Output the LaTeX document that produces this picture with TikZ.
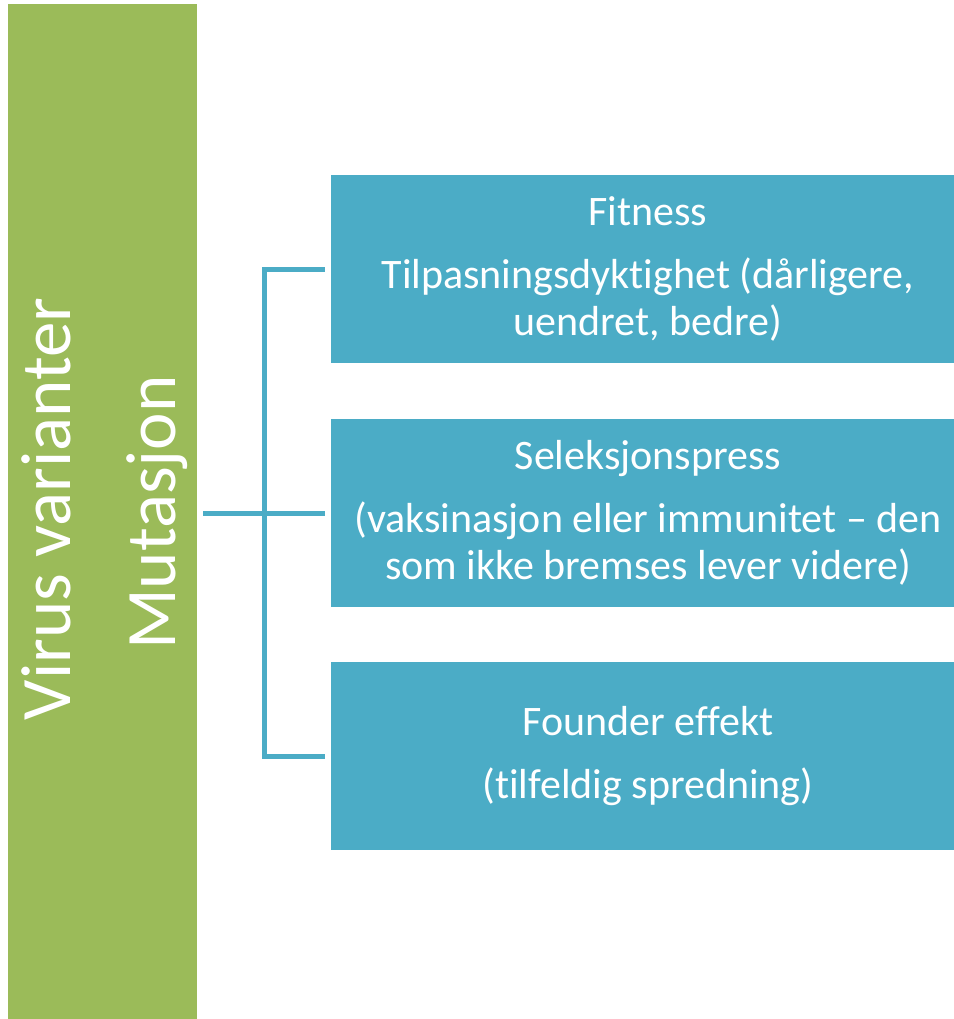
\documentclass[tikz,border=0pt]{standalone}
\usepackage{fontspec}
\setmainfont{Carlito}[Ligatures=NoCommon]
\definecolor{gronn}{HTML}{9BBB59}
\definecolor{blaa}{HTML}{4BACC6}
\begin{document}
\begin{tikzpicture}[x=1pt,y=-1pt,
		boks/.style={fill=blaa,text=white,minimum width=634pt,minimum height=188pt,inner sep=0pt,align=center,font=\fontsize{42}{47}\selectfont},
		loddrett/.style={rotate=90,anchor=base,text=white,font=\fontsize{71}{85}\selectfont},
		kobling/.style={draw=blaa,line width=5pt}]
	\useasboundingbox (0,0) rectangle (953,1019);
	\node[fill=gronn,minimum width=189pt,minimum height=1020pt,inner sep=0pt] (stolpe) at (102.5,514) {};
	\node[loddrett] (virus) at (70,509) {Virus varianter};
	\node[loddrett] (mutasjon) at (175,512.5) {Mutasjon};
	\node[boks] (fitness) at (648,269) {Fitness\\[16pt]Tilpasningsdyktighet (dårligere,\\uendret, bedre)};
	\node[boks] (seleksjon) at (648,513) {Seleksjonspress\\[16pt](vaksinasjon eller immunitet – den\\som ikke bremses lever videre)};
	\node[boks] (founder) at (648,756) {Founder effekt\\[16pt](tilfeldig spredning)};
	\coordinate (gren) at (264,513);
	\draw[kobling] ([xshift=-6pt]fitness.west) -| (gren |- founder.west) -- ([xshift=-6pt]founder.west);
	\draw[kobling] ([xshift=6pt]stolpe.east |- seleksjon.west) -- ([xshift=-6pt]seleksjon.west);
\end{tikzpicture}
\end{document}
